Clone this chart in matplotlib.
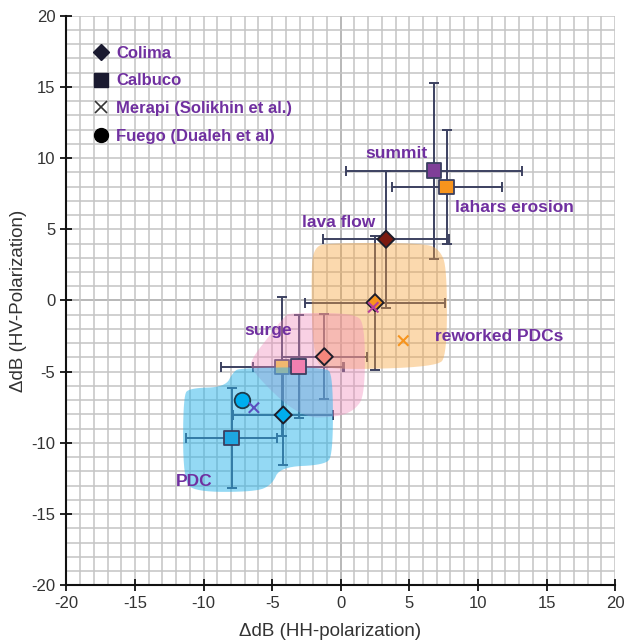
import numpy as np
import matplotlib
matplotlib.use("Agg")
import matplotlib.pyplot as plt
from matplotlib.patches import Polygon
from matplotlib.lines import Line2D

plt.rcParams['font.family'] = ['Liberation Sans', 'DejaVu Sans']
plt.rcParams['axes.unicode_minus'] = False

# ---------------- data ----------------
# Colima (diamonds): lava flow, reworked PDCs, surge, PDC
colima_x = [3.3, 2.5, -1.2, -4.19]
colima_y = [4.3, -0.15, -3.95, -8.04]
colima_xerr = [4.6, 5.1, 3.1, 3.64]
colima_yerr = [4.8, 4.7, 3.0, 3.5]
colima_colors = ['#7b1a10', '#f7941d', '#f4877c', '#00aeef']

# Calbuco (squares): summit, lahars erosion, surge, PDC
calbuco_x = [6.8, 7.72, -3.07, -7.96]
calbuco_y = [9.1, 7.97, -4.65, -9.66]
calbuco_xerr = [6.4, 4.0, 3.33, 3.33]
calbuco_yerr = [6.2, 4.0, 3.63, 3.49]
calbuco_colors = ['#7f3f98', '#f7941d', '#f080b0', '#1ea7e1']

# additional (yellow) square beneath the shaded areas
yellow_x = [-4.3]
yellow_y = [-4.65]
yellow_xerr = [4.44]
yellow_yerr = [4.9]
yellow_colors = ['#f2d43c']

# Merapi (crosses): PDC, surge, reworked PDCs
merapi_x = [-6.33, 2.37, 4.56]
merapi_y = [-7.53, -0.48, -2.82]
merapi_colors = ['#5a4fbf', '#b8409c', '#f7941d']

# Fuego (circle): PDC
fuego_x = [-7.18]
fuego_y = [-6.99]
fuego_colors = ['#00aeef']

# shaded zones (outline vertices, data units)
orange_zone = [(-1.15, 4.04), (6.14, 4.04), (7.23, 3.55), (7.74, 2.28), (7.74, -3.83),
               (7.01, -4.67), (-0.79, -4.88), (-2.03, -4.32), (-2.17, 2.49), (-1.88, 3.69)]
pink_zone = [(-3.70, -0.88), (1.03, -0.88), (1.76, -1.72), (1.76, -6.64), (1.03, -7.69),
             (-0.20, -8.18), (-2.97, -8.25), (-6.62, -4.88), (-6.47, -4.04), (-5.16, -2.42),
             (-4.07, -1.09)]
cyan_zone = [(-11.49, -6.64), (-10.98, -6.15), (-8.43, -6.08), (-7.84, -5.02), (-7.35, -4.74),
             (-1.15, -4.67), (-0.57, -5.23), (-0.57, -10.85), (-1.15, -11.55), (-4.43, -11.69),
             (-5.02, -12.96), (-6.26, -13.44), (-10.63, -13.44), (-11.49, -12.6)]

labels = ['summit', 'lahars erosion', 'lava flow', 'reworked PDCs', 'surge', 'PDC']
label_x = [4.05, 8.32, -0.13, 6.87, -5.3, -10.7]
label_y = [10.35, 6.5, 5.5, -2.5, -2.14, -12.7]
label_ha = ['center', 'left', 'center', 'left', 'center', 'center']

legend_names = ['Colima', 'Calbuco', 'Merapi (Solikhin et al.)', 'Fuego (Dualeh et al)']

ticks = [-20, -15, -10, -5, 0, 5, 10, 15, 20]

# ---------------- figure ----------------
fig = plt.figure(figsize=(6.27, 6.44), dpi=100)
ax = fig.add_axes([0.1059, 0.0912, 0.8751, 0.8844])
ax.set_xlim(-20, 20)
ax.set_ylim(-20, 20)

ax.set_xticks(ticks)
ax.set_yticks(ticks)
ax.set_xticks(np.arange(-20, 21, 1), minor=True)
ax.set_yticks(np.arange(-20, 21, 1), minor=True)
ax.grid(which='both', color='#c4c4c4', lw=1.1, zorder=0)
ax.set_axisbelow(True)
ax.axhline(0, color='#8a8a8a', lw=1.3, zorder=0.5)
ax.axvline(0, color='#8a8a8a', lw=1.3, zorder=0.5)

for s in ['top', 'right']:
    ax.spines[s].set_visible(False)
for s in ['left', 'bottom']:
    ax.spines[s].set_linewidth(1.5)
    ax.spines[s].set_color('#111111')
    ax.spines[s].set_zorder(6)
ax.tick_params(which='major', direction='inout', length=9, width=1.3,
               labelsize=12, labelcolor='#333333', color='#111111')
ax.tick_params(which='minor', length=0)

ebkw = dict(fmt='none', ecolor='#3c4160', elinewidth=1.4, capsize=3.5, capthick=1.4, zorder=1)
ax.errorbar(colima_x, colima_y, xerr=colima_xerr, yerr=colima_yerr, **ebkw)
ax.errorbar(calbuco_x, calbuco_y, xerr=calbuco_xerr, yerr=calbuco_yerr, **ebkw)
ax.errorbar(yellow_x, yellow_y, xerr=yellow_xerr, yerr=yellow_yerr, **ebkw)

ax.scatter(yellow_x, yellow_y, marker='s', s=115, c=yellow_colors,
           edgecolors='#3a3f60', linewidths=1.3, zorder=1.5)


def chaikin(pts, n=3):
    p = np.asarray(pts, float)
    for _ in range(n):
        q = np.roll(p, -1, axis=0)
        a = 0.75 * p + 0.25 * q
        b = 0.25 * p + 0.75 * q
        r = np.empty((2 * len(p), 2))
        r[0::2] = a
        r[1::2] = b
        p = r
    return p


for zone, col, a in [(orange_zone, '#f7a540', 0.42), (pink_zone, '#f08cbc', 0.4),
                     (cyan_zone, '#2ab4ea', 0.5)]:
    ax.add_patch(Polygon(chaikin(zone), closed=True, facecolor=col, alpha=a,
                         edgecolor='none', zorder=2))

ax.scatter(colima_x, colima_y, marker='D', s=75, c=colima_colors,
           edgecolors='#1e1e2a', linewidths=1.4, zorder=3)
ax.scatter(calbuco_x, calbuco_y, marker='s', s=115, c=calbuco_colors,
           edgecolors='#3a3f60', linewidths=1.3, zorder=3)
ax.scatter(fuego_x, fuego_y, marker='o', s=125, c=fuego_colors,
           edgecolors='#1e3a4a', linewidths=1.3, zorder=3)
ax.scatter(merapi_x, merapi_y, marker='x', s=55, c=merapi_colors,
           linewidths=1.5, zorder=4)

for t, lx, ly, ha in zip(labels, label_x, label_y, label_ha):
    ax.text(lx, ly, t, ha=ha, va='center', color='#7030a0', fontsize=12.5,
            fontweight='bold', zorder=5)

hcol = '#1a1a30'
handles = [Line2D([], [], ls='none', marker='D', ms=8.5, mfc=hcol, mec=hcol),
           Line2D([], [], ls='none', marker='s', ms=9.5, mfc=hcol, mec=hcol),
           Line2D([], [], ls='none', marker='x', ms=8, mec='#333333', mew=1.2),
           Line2D([], [], ls='none', marker='o', ms=10, mfc='black', mec='black')]
leg = ax.legend(handles, legend_names, loc='upper left', bbox_to_anchor=(0.047, 0.9475),
                frameon=False, borderaxespad=0, borderpad=0, handlelength=1.0,
                handletextpad=0.45, labelspacing=0.77,
                prop={'size': 12, 'weight': 'bold'})
for txt in leg.get_texts():
    txt.set_color('#7030a0')
leg.set_zorder(7)

ax.set_xlabel('ΔdB (HH-polarization)', fontsize=13.5, color='#333333')
ax.set_ylabel('ΔdB (HV-Polarization)', fontsize=13.5, color='#333333', labelpad=3)
ax.xaxis.set_label_coords(0.48, -0.066)

fig.savefig('out.png', dpi=100)
